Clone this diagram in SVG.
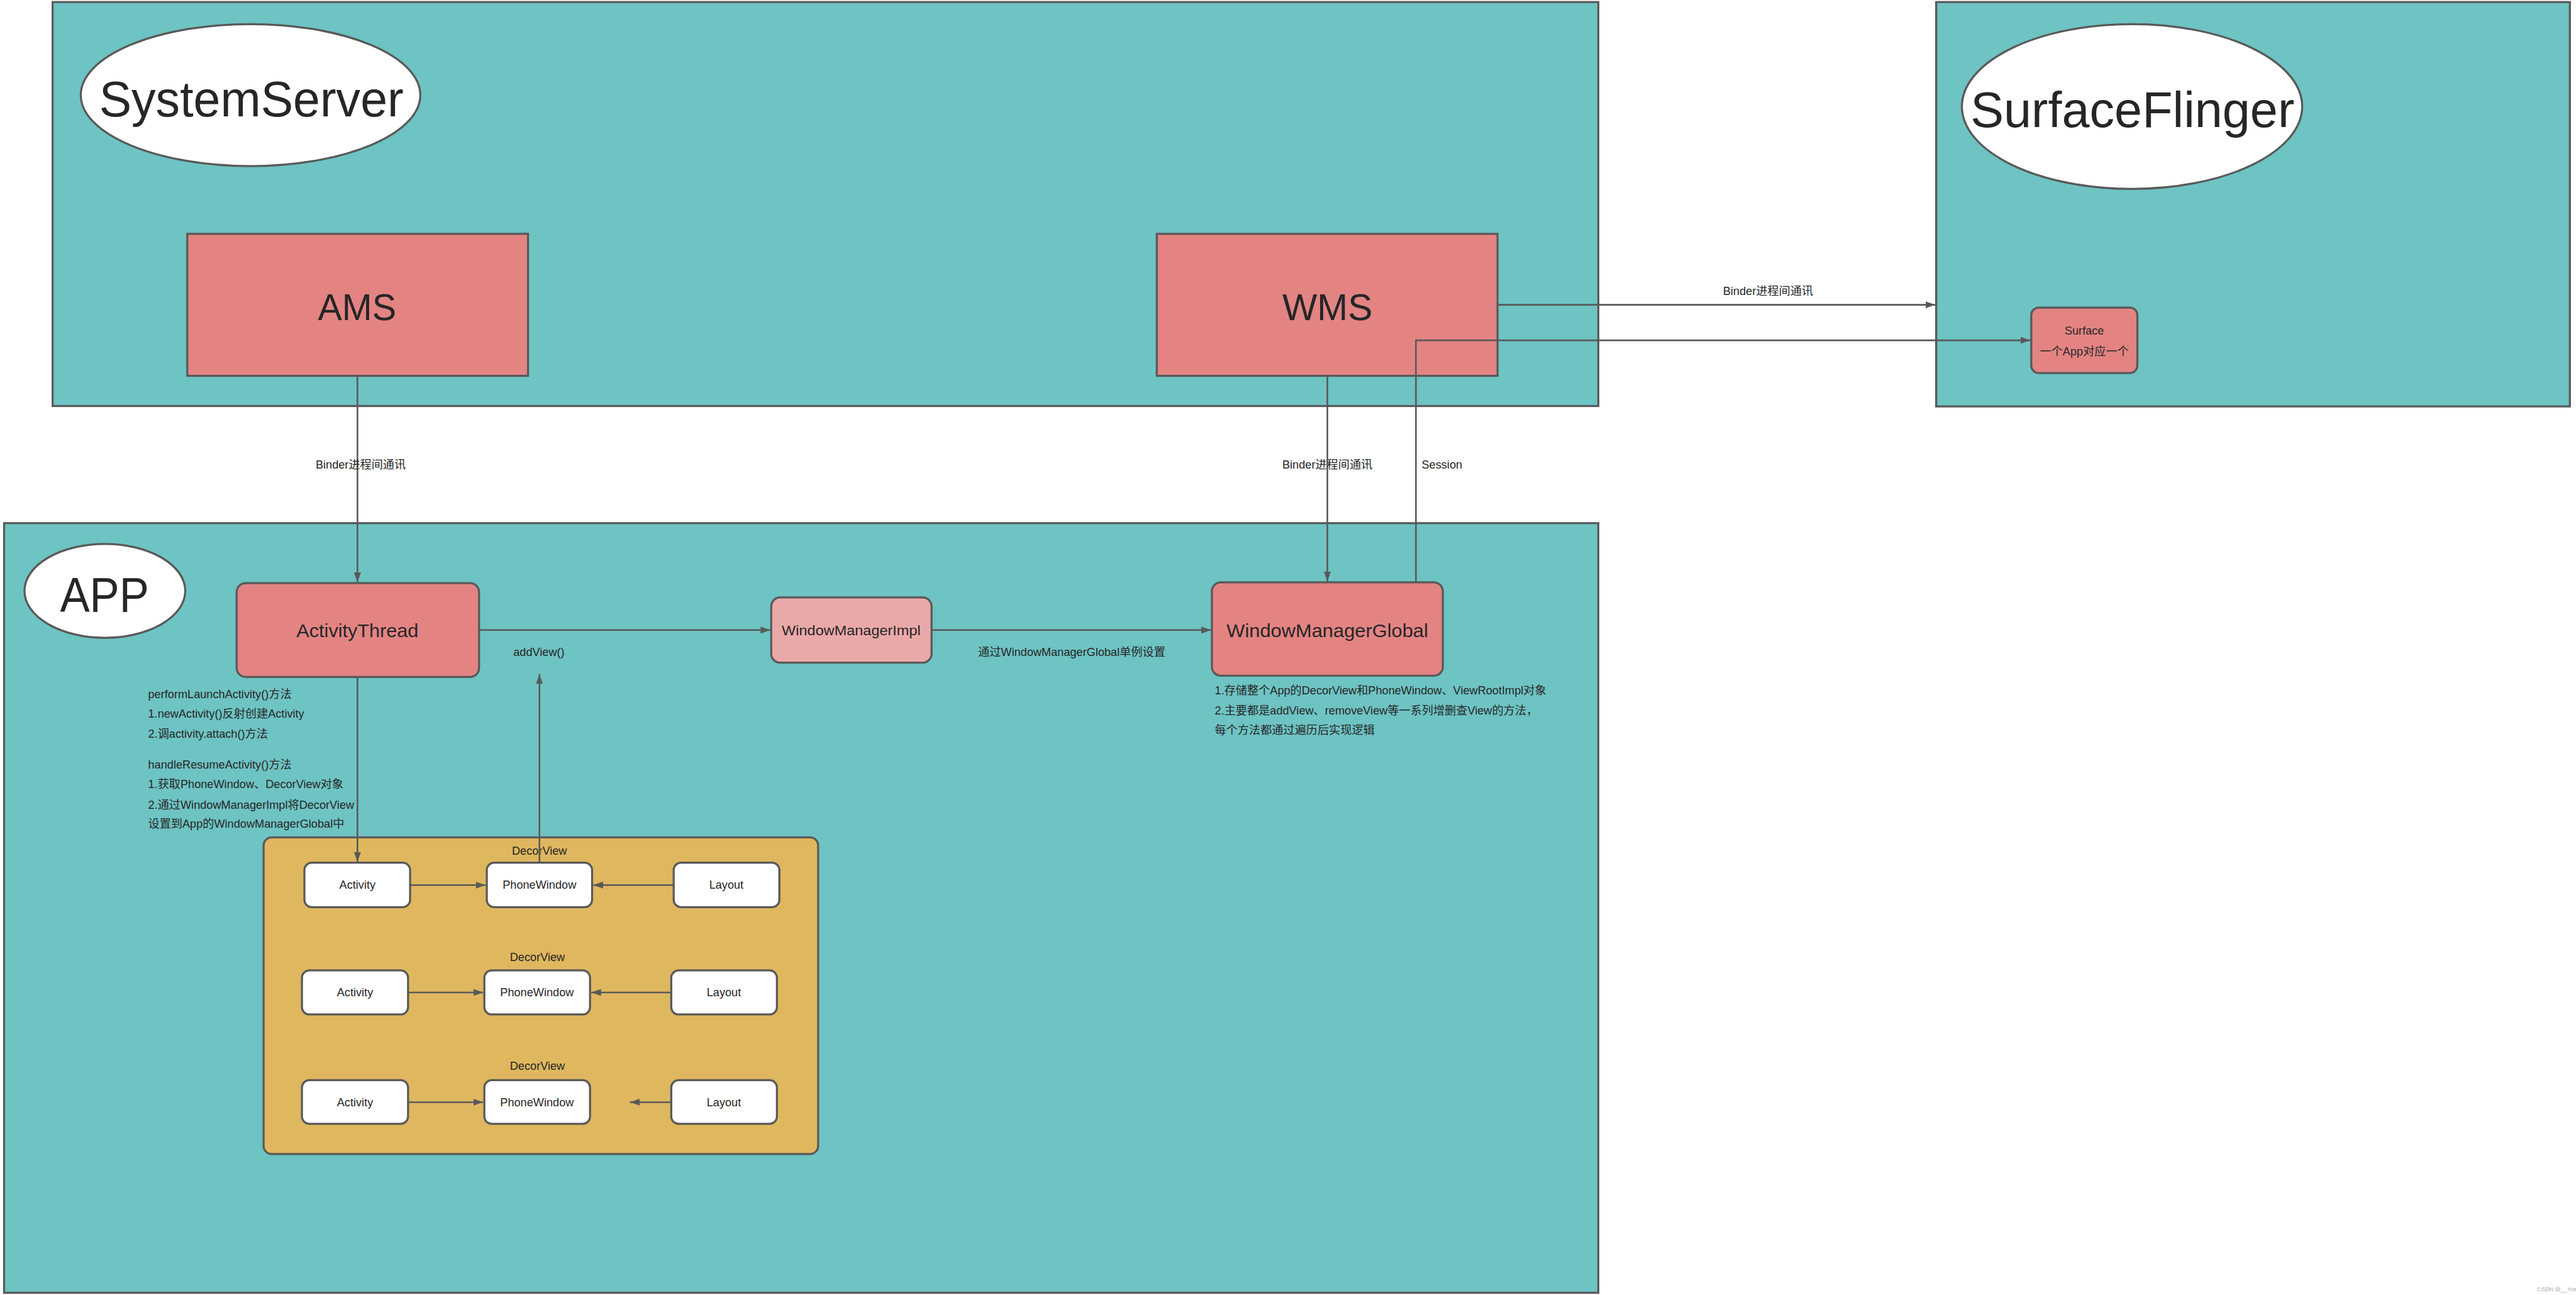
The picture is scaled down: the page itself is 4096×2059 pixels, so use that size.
<svg xmlns="http://www.w3.org/2000/svg" width="4096" height="2059" viewBox="0 0 4096 2059">
<style>
.bg{fill:#6EC3C3;stroke:#595959;stroke-width:5}
.ell{fill:#ffffff;stroke:#595959;stroke-width:5}
.node{fill:#E38483;stroke:#595959;stroke-width:5}
.light{fill:#EAA9A9;stroke:#595959;stroke-width:5}
.cont{fill:#DFB75E;stroke:#595959;stroke-width:5}
.w{fill:#ffffff;stroke:#595959;stroke-width:5}
.conn{fill:none;stroke:#595959;stroke-width:4;marker-end:url(#ah)}
.plain{fill:none;stroke:#595959;stroke-width:4}
text{font-family:"Liberation Sans","Noto Sans CJK SC",sans-serif;fill:#262626}
.s{font-size:28px}
.m{text-anchor:middle}
</style>
<defs>
<marker id="ah" markerUnits="userSpaceOnUse" markerWidth="24" markerHeight="17" refX="24" refY="8.5" orient="auto">
<path d="M0,0 L24,8.5 L0,17 z" fill="#595959"/>
</marker>
</defs>
<rect x="0" y="0" width="4096" height="2059" fill="#ffffff"/>
<g transform="scale(0.64882)">
<g id="systemserver">
<rect class="bg" x="129" y="5" width="3788" height="990"/>
<ellipse class="ell" cx="614" cy="233" rx="416" ry="174"/>
<text class="m" x="616" y="285" font-size="122" textLength="746" lengthAdjust="spacingAndGlyphs">SystemServer</text>
</g>
<g id="surfaceflinger">
<rect class="bg" x="4745" y="5" width="1553" height="991"/>
<ellipse class="ell" cx="5225" cy="261" rx="417" ry="202"/>
<text class="m" x="5226" y="312" font-size="122" textLength="794" lengthAdjust="spacingAndGlyphs">SurfaceFlinger</text>
</g>
<g id="app">
<rect class="bg" x="10" y="1282" width="3907" height="1886"/>
<ellipse class="ell" cx="257" cy="1448" rx="197" ry="115"/>
<text class="m" x="256" y="1499" font-size="120" textLength="218" lengthAdjust="spacingAndGlyphs">APP</text>
</g>
<g id="ams">
<rect class="node" x="459" y="573" width="835" height="348"/>
<text class="m" x="875" y="785" font-size="92" textLength="192" lengthAdjust="spacingAndGlyphs">AMS</text>
</g>
<g id="wms">
<rect class="node" x="2835" y="573" width="835" height="348"/>
<text class="m" x="3253" y="785" font-size="92" textLength="221" lengthAdjust="spacingAndGlyphs">WMS</text>
</g>
<g id="surface">
<rect class="node" x="4978" y="754" width="260" height="160" rx="18" ry="18"/>
<text class="s m" x="5108" y="820" font-size="26">Surface</text>
<text class="s m" x="5108" y="871">一个App对应一个</text>
</g>
<g id="activitythread">
<rect class="node" x="580" y="1429" width="594" height="230" rx="22" ry="22"/>
<text class="m" x="876" y="1562" font-size="46" textLength="299" lengthAdjust="spacingAndGlyphs">ActivityThread</text>
</g>
<g id="windowmanagerimpl">
<rect class="light" x="1890" y="1464" width="393" height="160" rx="22" ry="22"/>
<text class="m" x="2086" y="1557" font-size="35" textLength="340" lengthAdjust="spacingAndGlyphs">WindowManagerImpl</text>
</g>
<g id="windowmanagerglobal">
<rect class="node" x="2970" y="1427" width="566" height="229" rx="22" ry="22"/>
<text class="m" x="3253" y="1562" font-size="46" textLength="494" lengthAdjust="spacingAndGlyphs">WindowManagerGlobal</text>
</g>
<g id="decorview-container">
<rect class="cont" x="646" y="2052" width="1359" height="776" rx="20" ry="20"/>
<text class="s m" x="1322" y="2094">DecorView</text>
<text class="s m" x="1317" y="2355">DecorView</text>
<text class="s m" x="1317" y="2622">DecorView</text>
</g>
<g id="activity1"><rect class="w" x="746" y="2114" width="259" height="109" rx="18" ry="18"/><text class="s m" x="876" y="2178">Activity</text></g>
<g id="phonewindow1"><rect class="w" x="1193" y="2114" width="258" height="109" rx="18" ry="18"/><text class="s m" x="1322" y="2178">PhoneWindow</text></g>
<g id="layout1"><rect class="w" x="1651" y="2114" width="259" height="109" rx="18" ry="18"/><text class="s m" x="1780" y="2178">Layout</text></g>
<g id="activity2"><rect class="w" x="740" y="2378" width="260" height="108" rx="18" ry="18"/><text class="s m" x="870" y="2442">Activity</text></g>
<g id="phonewindow2"><rect class="w" x="1187" y="2378" width="259" height="108" rx="18" ry="18"/><text class="s m" x="1316" y="2442">PhoneWindow</text></g>
<g id="layout2"><rect class="w" x="1645" y="2378" width="259" height="108" rx="18" ry="18"/><text class="s m" x="1774" y="2442">Layout</text></g>
<g id="activity3"><rect class="w" x="740" y="2647" width="260" height="107" rx="18" ry="18"/><text class="s m" x="870" y="2711">Activity</text></g>
<g id="phonewindow3"><rect class="w" x="1187" y="2647" width="259" height="107" rx="18" ry="18"/><text class="s m" x="1316" y="2711">PhoneWindow</text></g>
<g id="layout3"><rect class="w" x="1645" y="2647" width="259" height="107" rx="18" ry="18"/><text class="s m" x="1774" y="2711">Layout</text></g>
<g id="notes-activitythread">
<text class="s" x="363" y="1711">performLaunchActivity()方法</text>
<text class="s" x="363" y="1759">1.newActivity()反射创建Activity</text>
<text class="s" x="363" y="1808">2.调activity.attach()方法</text>
<text class="s" x="363" y="1883">handleResumeActivity()方法</text>
<text class="s" x="363" y="1931">1.获取PhoneWindow、DecorView对象</text>
<text class="s" x="363" y="1982">2.通过WindowManagerImpl将DecorView</text>
<text class="s" x="363" y="2029">设置到App的WindowManagerGlobal中</text>
</g>
<g id="notes-windowmanagerglobal">
<text class="s" x="2977" y="1702">1.存储整个App的DecorView和PhoneWindow、ViewRootImpl对象</text>
<text class="s" x="2977" y="1751">2.主要都是addView、removeView等一系列增删查View的方法，</text>
<text class="s" x="2977" y="1799">每个方法都通过遍历后实现逻辑</text>
</g>
<g id="connectors">
<line class="conn" x1="876" y1="921" x2="876" y2="1427"/>
<line class="conn" x1="3253" y1="921" x2="3253" y2="1425"/>
<polyline class="conn" points="3470,1427 3470,834 4976,834"/>
<line class="conn" x1="3670" y1="747" x2="4743" y2="747"/>
<line class="conn" x1="1174" y1="1544" x2="1888" y2="1544"/>
<line class="conn" x1="2283" y1="1544" x2="2968" y2="1544"/>
<line class="conn" x1="876" y1="1659" x2="876" y2="2112"/>
<line class="conn" x1="1322" y1="2114" x2="1322" y2="1652"/>
<line class="conn" x1="1005" y1="2169" x2="1190" y2="2169"/>
<line class="conn" x1="1651" y1="2169" x2="1454" y2="2169"/>
<line class="conn" x1="1000" y1="2432" x2="1184" y2="2432"/>
<line class="conn" x1="1645" y1="2432" x2="1449" y2="2432"/>
<line class="conn" x1="1000" y1="2701" x2="1184" y2="2701"/>
<line class="conn" x1="1645" y1="2701" x2="1544" y2="2701"/>
<text class="s m" x="884" y="1149">Binder进程间通讯</text>
<text class="s m" x="3253" y="1149">Binder进程间通讯</text>
<text class="s" x="3484" y="1149">Session</text>
<text class="s m" x="4333" y="723">Binder进程间通讯</text>
<text class="s" x="1258" y="1607">addView()</text>
<text class="s" x="2397" y="1607">通过WindowManagerGlobal单例设置</text>
</g>
<text x="6218" y="3164" font-size="14" style="fill:#aaaaaa">CSDN @__Yvan</text>
</g>
</svg>
